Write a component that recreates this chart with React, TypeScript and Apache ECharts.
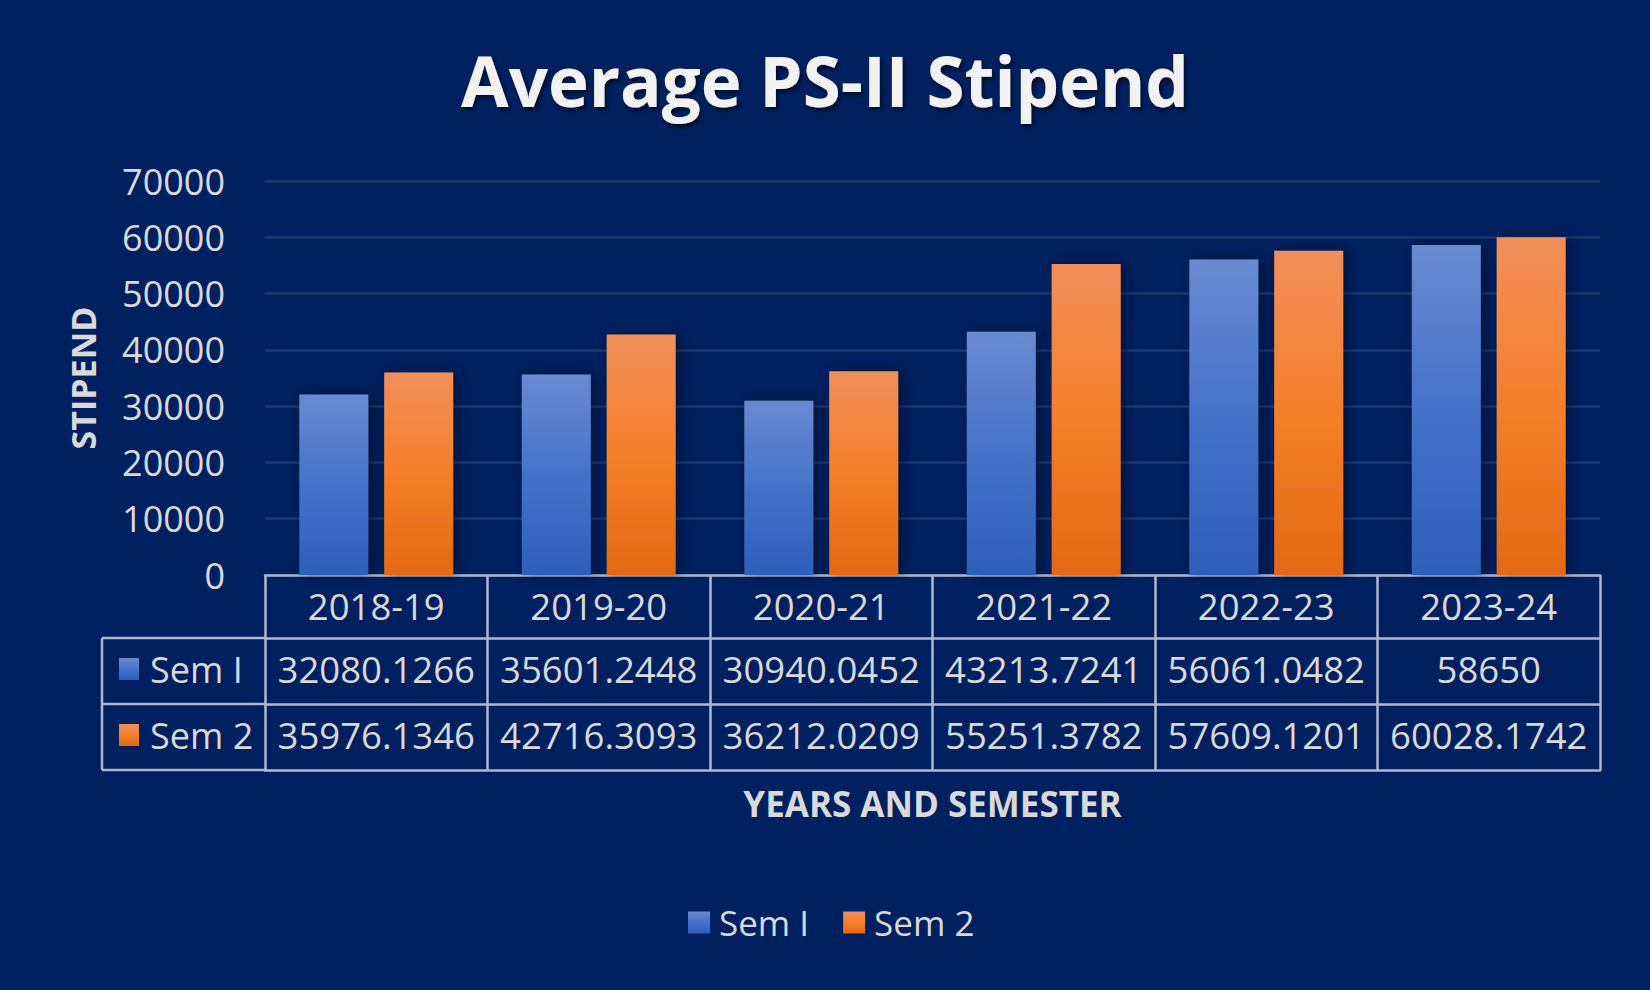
import React, { useEffect, useRef } from 'react';
import * as echarts from 'echarts';

const titleText = 'Average PS-II Stipend';
const xAxisName = 'YEARS AND SEMESTER';
const yAxisName = 'STIPEND';
const categories = ['2018-19', '2019-20', '2020-21', '2021-22', '2022-23', '2023-24'];
const seriesNames = ['Sem I', 'Sem 2'];
const sem1 = [32080.1266, 35601.2448, 30940.0452, 43213.7241, 56061.0482, 58650];
const sem2 = [35976.1346, 42716.3093, 36212.0209, 55251.3782, 57609.1201, 60028.1742];
const yMin = 0;
const yMax = 70000;
const yStep = 10000;

const BG = '#002060';
const TEXT = '#D9D9D9';
const LINE = '#AEB8CE';
const FONT = "'Open Sans', 'Noto Sans', sans-serif";

const blueGrad = () =>
  new echarts.graphic.LinearGradient(0, 0, 0, 1, [
    { offset: 0, color: '#6A8AD1' },
    { offset: 0.5, color: '#4472C9' },
    { offset: 1, color: '#2E5FBC' },
  ]);
const orangeGrad = () =>
  new echarts.graphic.LinearGradient(0, 0, 0, 1, [
    { offset: 0, color: '#F18F5A' },
    { offset: 0.5, color: '#F57F2A' },
    { offset: 1, color: '#E36914' },
  ]);

const tableAxis = (offset: number, labels: string[] | null, tickLen: number, margin: number) => ({
  type: 'category',
  data: categories,
  position: 'bottom',
  offset,
  axisLine: { show: true, lineStyle: { color: LINE, width: 2.5 } },
  axisTick: {
    show: tickLen > 0,
    interval: 0,
    length: tickLen,
    lineStyle: { color: LINE, width: 2.5 },
  },
  axisLabel: {
    show: !!labels,
    interval: 0,
    margin,
    formatter: (_v: string, i: number) => (labels ? labels[i] : ''),
    color: TEXT,
    fontSize: 36.5,
    fontFamily: FONT,
    lineHeight: 40,
  },
  splitLine: { show: false },
});

export default function App() {
  const ref = useRef<HTMLDivElement>(null);
  useEffect(() => {
    document.body.style.margin = '0';
    const chart = echarts.init(ref.current!, null, { renderer: 'svg' });
    const left = 265;
    const tableLeft = 102;
    const rowY = [638, 704, 770];
    const rowCenters = [669, 735];
    const lineStyle = { stroke: LINE, lineWidth: 2.5 };
    const grads = [blueGrad, orangeGrad];

    const graphics: any[] = [];
    rowY.forEach((y) => {
      graphics.push({ type: 'line', shape: { x1: tableLeft, y1: y, x2: left, y2: y }, style: lineStyle });
    });
    graphics.push({
      type: 'line',
      shape: { x1: tableLeft, y1: rowY[0], x2: tableLeft, y2: rowY[2] },
      style: lineStyle,
    });
    seriesNames.forEach((name, i) => {
      graphics.push({
        type: 'rect',
        shape: { x: 119, y: rowCenters[i] - 11, width: 20, height: 22 },
        style: { fill: grads[i]() },
      });
      graphics.push({
        type: 'text',
        x: 150,
        y: rowCenters[i],
        style: {
          text: name,
          fill: TEXT,
          fontSize: 36,
          fontFamily: FONT,
          verticalAlign: 'middle',
          align: 'left',
        },
      });
    });

    const option: any = {
      animation: false,
      backgroundColor: BG,
      title: {
        text: titleText,
        left: 'center',
        top: 40,
        textStyle: {
          color: '#F2F2F2',
          fontSize: 69,
          fontWeight: 'bold',
          fontFamily: FONT,
          textShadowColor: 'rgba(0,0,0,0.6)',
          textShadowBlur: 4,
          textShadowOffsetX: 2,
          textShadowOffsetY: 3,
        },
      },
      legend: {
        data: seriesNames,
        left: 683,
        top: 900,
        icon: 'rect',
        itemWidth: 22,
        itemHeight: 22,
        itemGap: 34,
        textStyle: { color: TEXT, fontSize: 35, fontFamily: FONT, padding: [0, 0, 0, 4] },
      },
      grid: { left, right: 50, top: 181, bottom: 415 },
      xAxis: [
        tableAxis(0, categories, 63, 11),
        tableAxis(63, sem1.map((v) => String(v)), 66, 11),
        tableAxis(129, sem2.map((v) => String(v)), 66, 11),
        {
          ...tableAxis(195, null, 0, 0),
          name: xAxisName,
          nameLocation: 'middle',
          nameGap: 16,
          nameTextStyle: { color: TEXT, fontSize: 35, fontWeight: 'bold', fontFamily: FONT },
        },
      ],
      yAxis: {
        type: 'value',
        min: yMin,
        max: yMax,
        interval: yStep,
        name: yAxisName,
        nameLocation: 'middle',
        nameRotate: 90,
        nameGap: 165,
        nameTextStyle: { color: TEXT, fontSize: 34, fontWeight: 'bold', fontFamily: FONT },
        axisLine: { show: false },
        axisTick: { show: false },
        axisLabel: {
          color: TEXT,
          fontSize: 36,
          fontFamily: FONT,
          margin: 40,
          formatter: (v: number) => String(v),
        },
        splitLine: { show: true, lineStyle: { color: 'rgba(255,255,255,0.11)', width: 2.5 } },
      },
      series: [sem1, sem2].map((data, i) => ({
        name: seriesNames[i],
        type: 'bar',
        xAxisIndex: 0,
        data,
        barWidth: 69,
        barGap: '23%',
        itemStyle: {
          color: grads[i](),
          shadowColor: 'rgba(0,0,0,0.45)',
          shadowBlur: 14,
          shadowOffsetX: 4,
          shadowOffsetY: 0,
        },
      })),
      graphic: graphics,
    };
    chart.setOption(option);
    return () => chart.dispose();
  }, []);
  return <div ref={ref} style={{ width: 1650, height: 990, background: BG }} />;
}
